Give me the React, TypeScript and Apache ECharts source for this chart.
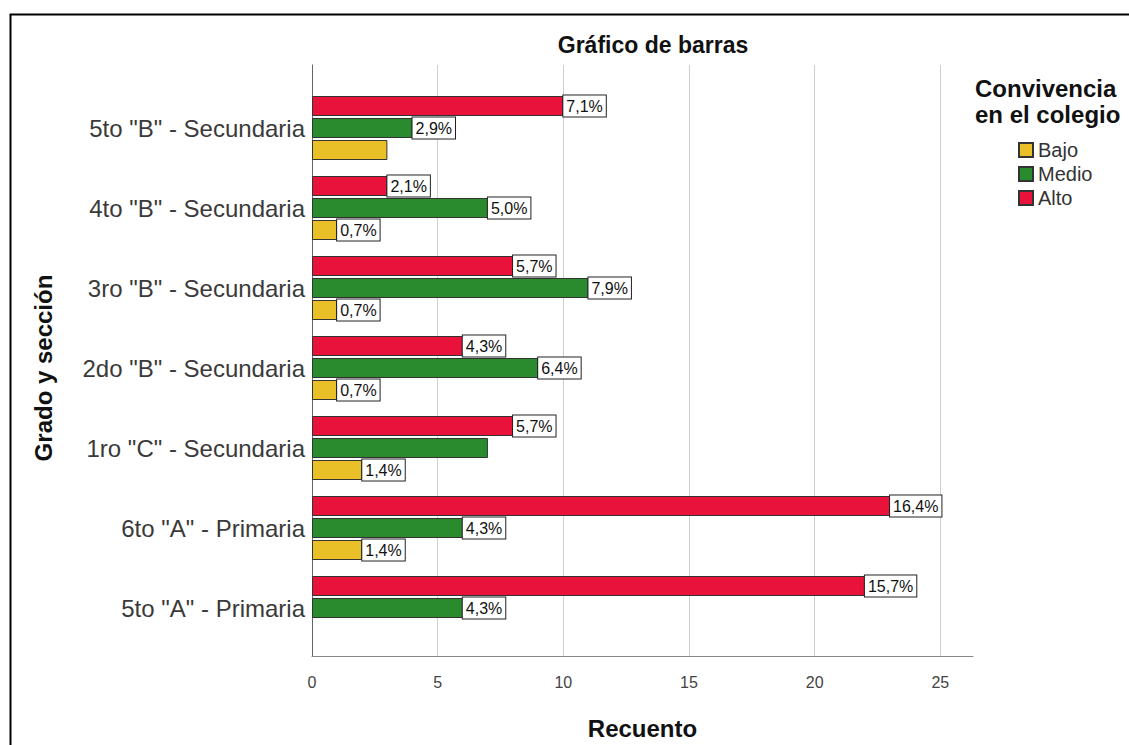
import React, { useEffect, useRef } from "react";
import * as echarts from "echarts";

const categories = [
  '5to "A" - Primaria',
  '6to "A" - Primaria',
  '1ro "C" - Secundaria',
  '2do "B" - Secundaria',
  '3ro "B" - Secundaria',
  '4to "B" - Secundaria',
  '5to "B" - Secundaria',
];
const seriesNames = ["Bajo", "Medio", "Alto"];
const bajo = [0, 2, 2, 1, 1, 1, 3];
const medio = [6, 6, 7, 9, 11, 7, 4];
const alto = [22, 23, 8, 6, 8, 3, 10];
const bajoLabels = [null, "1,4%", "1,4%", "0,7%", "0,7%", "0,7%", null];
const medioLabels = ["4,3%", "4,3%", null, "6,4%", "7,9%", "5,0%", "2,9%"];
const altoLabels = ["15,7%", "16,4%", "5,7%", "4,3%", "5,7%", "2,1%", "7,1%"];
const xTicks = [0, 5, 10, 15, 20, 25];

const FONT = "'Liberation Sans', Arial, sans-serif";
const colors = ["#E9C028", "#2A8A2E", "#E8123A"];
const X_MAX = 26.3;

function buildData(values: number[], labels: (string | null)[]) {
  return values.map((v, i) => {
    if (v === 0) return "-";
    const lbl = labels[i];
    return {
      value: v,
      label: lbl == null ? { show: false } : { show: true, formatter: lbl },
    };
  });
}

export default function App() {
  const ref = useRef<HTMLDivElement>(null);
  useEffect(() => {
    if (!ref.current) return;
    const chart = echarts.init(ref.current, null, { renderer: "svg" });
    const valueSets = [bajo, medio, alto];
    const labelSets = [bajoLabels, medioLabels, altoLabels];
    // ECharts puts the first series at the top of a horizontal group; reverse so Bajo is at the bottom
    const order = [2, 1, 0];
    const option: any = {
      animation: false,
      backgroundColor: "#ffffff",
      textStyle: { fontFamily: FONT },
      grid: [
        { left: 312, top: 65, width: 661, height: 607 },
        { left: 312, top: 88, width: 661, height: 560 },
      ],
      xAxis: [
        {
          gridIndex: 0,
          type: "value",
          min: 0,
          max: X_MAX,
          interval: 5,
          name: "Recuento",
          nameLocation: "middle",
          nameGap: 60,
          nameTextStyle: { fontFamily: FONT, fontSize: 24, fontWeight: "bold", color: "#111" },
          axisLine: { show: true, lineStyle: { color: "#888", width: 1 } },
          axisTick: { show: false },
          axisLabel: {
            fontFamily: FONT,
            fontSize: 16,
            color: "#444",
            margin: 18,
            showMaxLabel: false,
            formatter: (v: number) => (xTicks.includes(v) ? String(v) : ""),
          },
          splitLine: {
            show: true,
            showMinLine: false,
            showMaxLine: false,
            lineStyle: { color: "#cfcfcf", width: 1 },
          },
        },
        {
          gridIndex: 1,
          type: "value",
          min: 0,
          max: X_MAX,
          show: false,
        },
      ],
      yAxis: [
        {
          gridIndex: 0,
          type: "value",
          min: 0,
          max: 1,
          axisLine: { show: true, lineStyle: { color: "#666", width: 1 } },
          axisTick: { show: false },
          axisLabel: { show: false },
          splitLine: { show: false },
        },
        {
          gridIndex: 1,
          type: "category",
          data: categories,
          name: "Grado y sección",
          nameLocation: "middle",
          nameRotate: 90,
          nameGap: 257,
          nameTextStyle: { fontFamily: FONT, fontSize: 24, fontWeight: "bold", color: "#111" },
          axisLine: { show: false },
          axisTick: { show: false },
          axisLabel: {
            fontFamily: FONT,
            fontSize: 24,
            color: "#3a3a3a",
            margin: 7,
            padding: [8, 0, 0, 0],
          },
          splitLine: { show: false },
        },
      ],
      legend: {
        data: seriesNames,
        orient: "vertical",
        left: 1018,
        top: 140,
        padding: 0,
        itemWidth: 14,
        itemHeight: 14,
        itemGap: 4,
        icon: "rect",
        textStyle: { fontFamily: FONT, fontSize: 20, color: "#333" },
      },
      graphic: [
        {
          type: "rect",
          left: 8,
          top: 12,
          shape: { x: 0, y: 0, width: 1200, height: 800 },
          style: { fill: "none", stroke: "#000", lineWidth: 2 },
          silent: true,
        },
        {
          type: "text",
          x: 653,
          y: 45,
          style: {
            text: "Gráfico de barras",
            fontFamily: FONT,
            fontSize: 23,
            fontWeight: "bold",
            fill: "#111",
            textAlign: "center",
            textVerticalAlign: "middle",
          },
        },
        {
          type: "text",
          x: 975,
          y: 88,
          style: {
            text: "Convivencia",
            fontFamily: FONT,
            fontSize: 24,
            fontWeight: "bold",
            fill: "#111",
            textAlign: "left",
            textVerticalAlign: "middle",
          },
        },
        {
          type: "text",
          x: 975,
          y: 114,
          style: {
            text: "en el colegio",
            fontFamily: FONT,
            fontSize: 24,
            fontWeight: "bold",
            fill: "#111",
            textAlign: "left",
            textVerticalAlign: "middle",
          },
        },
      ],
      series: order.map((si) => ({
        name: seriesNames[si],
        type: "bar",
        xAxisIndex: 1,
        yAxisIndex: 1,
        barWidth: 20,
        barGap: "10%",
        itemStyle: { color: colors[si], borderColor: "#333", borderWidth: 1 },
        label: {
          position: "right",
          distance: 0,
          fontFamily: FONT,
          fontSize: 16,
          color: "#111",
          backgroundColor: "#ffffff",
          borderColor: "#222",
          borderWidth: 1,
          padding: [3, 3, 2, 3],
        },
        data: buildData(valueSets[si], labelSets[si]),
      })),
    };
    chart.setOption(option);
    return () => chart.dispose();
  }, []);
  return (
    <div
      ref={ref}
      style={{ position: "fixed", left: 0, top: 0, width: 1129, height: 745, background: "#fff" }}
    />
  );
}
